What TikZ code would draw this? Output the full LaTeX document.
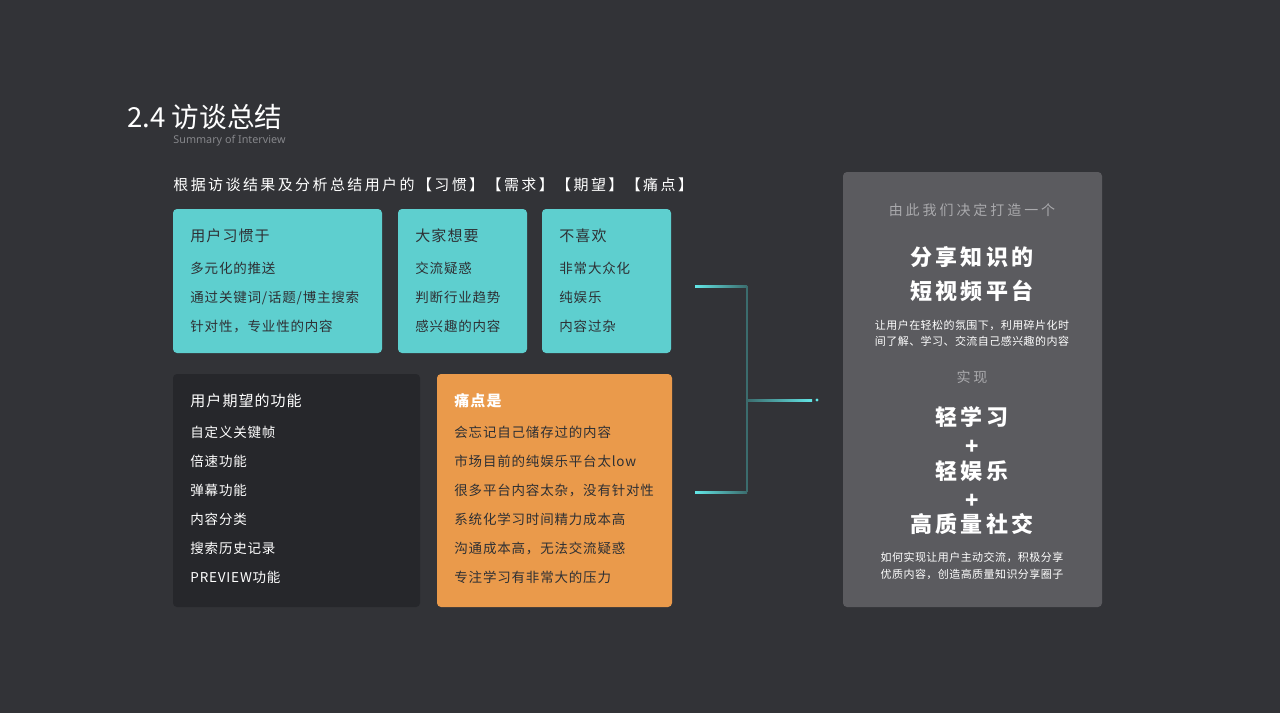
\documentclass[tikz,border=0pt]{standalone}
\usepackage{fontspec}
\usepackage{xcolor}
\usepackage{tikz}
\usetikzlibrary{calc}
\setmainfont{Noto Sans CJK SC}
\newfontfamily\latinsans{Noto Sans}
\newfontfamily\cjkhead[LetterSpace=16]{Noto Sans CJK SC}
\newfontfamily\cjktitle[LetterSpace=7]{Noto Sans CJK SC}
\newfontfamily\cjkitem[LetterSpace=6]{Noto Sans CJK SC}
\newfontfamily\cjkwide[LetterSpace=21]{Noto Sans CJK SC}
\newfontfamily\cjkbig[LetterSpace=15]{Noto Sans CJK SC}
\newfontfamily\cjksmall[LetterSpace=4]{Noto Sans CJK SC}

\definecolor{bgdark}{HTML}{323337}
\definecolor{tealbox}{HTML}{5ECFCF}
\definecolor{darkbox}{HTML}{26272B}
\definecolor{orangebox}{HTML}{EA9A4B}
\definecolor{panelgray}{HTML}{5B5B5F}
\definecolor{textdark}{HTML}{2E3034}
\definecolor{textgray}{HTML}{AAAAAD}
\definecolor{subgray}{HTML}{85868A}
\definecolor{linehi}{HTML}{62E6E6}
\definecolor{linelo}{HTML}{3B6C6D}

\begin{document}
\begin{tikzpicture}[x=0.5pt,y=-0.5pt,
    card/.style={rounded corners=2pt, anchor=north west, inner sep=0pt, outer sep=0pt},
    line/.style={anchor=west, inner sep=0pt, text height=0.88em, text depth=0.12em},
    mid/.style={anchor=center, inner sep=0pt, text height=0.88em, text depth=0.12em},
    cardtitle/.style={line, font=\cjktitle\fontsize{7.5pt}{9pt}\selectfont},
    carditem/.style={line, font=\cjkitem\fontsize{6.75pt}{8pt}\selectfont},
    panelhead/.style={mid, text=textgray, font=\cjkwide\fontsize{7pt}{8pt}\selectfont},
    panelbig/.style={mid, text=white, font=\cjkbig\bfseries\fontsize{11pt}{13pt}\selectfont},
    panelsmall/.style={mid, text=white, font=\cjksmall\fontsize{5.5pt}{7pt}\selectfont}]

    % background
    \useasboundingbox (0,0) rectangle (1280,713);
    \fill[bgdark] (0,0) rectangle (1280,713);

    % heading
    \node[anchor=base west, inner sep=0pt, text=white,
          font=\fontsize{13.8pt}{16pt}\selectfont] (title) at (127,127) {2.4 访谈总结};
    \node[anchor=west, inner sep=0pt, text=subgray,
          font=\latinsans\fontsize{5.4pt}{6pt}\selectfont] (subtitle) at (173,141) {Summary of Interview};
    \node[line, text=white, font=\cjkhead\fontsize{7.5pt}{9pt}\selectfont] (intro) at (173,183)
        {根据访谈结果及分析总结用户的【习惯】【需求】【期望】【痛点】};

    % cards, top row
    \node[card, fill=tealbox, minimum width=104.5pt, minimum height=72pt] (habitcard) at (173,209) {};
    \node[card, fill=tealbox, minimum width=64.5pt, minimum height=72pt] (wantcard) at (398,209) {};
    \node[card, fill=tealbox, minimum width=64.5pt, minimum height=72pt] (dislikecard) at (542,209) {};

    \node[cardtitle, text=textdark] (habit) at (190,234) {用户习惯于};
    \foreach \t [count=\i] in {多元化的推送, 通过关键词/话题/博主搜索, 针对性，专业性的内容}
        \node[carditem, text=textdark] (habit\i) at (190,237+29*\i) {\t};

    \node[cardtitle, text=textdark] (want) at (415,234) {大家想要};
    \foreach \t [count=\i] in {交流疑惑, 判断行业趋势, 感兴趣的内容}
        \node[carditem, text=textdark] (want\i) at (415,237+29*\i) {\t};

    \node[cardtitle, text=textdark] (dislike) at (559,234) {不喜欢};
    \foreach \t [count=\i] in {非常大众化, 纯娱乐, 内容过杂}
        \node[carditem, text=textdark] (dislike\i) at (559,237+29*\i) {\t};

    % cards, bottom row
    \node[card, fill=darkbox, minimum width=123.5pt, minimum height=116.5pt] (hopecard) at (173,374) {};
    \node[card, fill=orangebox, minimum width=117.5pt, minimum height=116.5pt] (paincard) at (437,374) {};

    \node[cardtitle, text=white] (hope) at (190,399) {用户期望的功能};
    \foreach \t [count=\i] in {自定义关键帧, 倍速功能, 弹幕功能, 内容分类, 搜索历史记录, PREVIEW功能}
        \node[carditem, text=white] (hope\i) at (190,401+29*\i) {\t};

    \node[cardtitle, text=white, font=\cjktitle\bfseries\fontsize{7.5pt}{9pt}\selectfont] (pain) at (454,399) {痛点是};
    \foreach \t [count=\i] in {会忘记自己储存过的内容, 市场目前的纯娱乐平台太low, 很多平台内容太杂，没有针对性,
                               系统化学习时间精力成本高, 沟通成本高，无法交流疑惑, 专注学习有非常大的压力}
        \node[carditem, text=textdark] (pain\i) at (454,401+29*\i) {\t};

    % connector
    \coordinate (ltop) at (695,286);
    \coordinate (jtop) at (747,286);
    \coordinate (lbot) at (695,492);
    \coordinate (jbot) at (747,492);
    \coordinate (jmid) at (747,400);
    \coordinate (rmid) at (812,400);
    \draw[linelo, line width=1pt] (jtop) -- (jbot);
    \shade[left color=linehi, right color=linelo] ($(ltop)+(0,-1)$) rectangle ($(jtop)+(0,1)$);
    \shade[left color=linehi, right color=linelo] ($(lbot)+(0,-1)$) rectangle ($(jbot)+(0,1)$);
    \shade[left color=linelo, right color=linehi] ($(jmid)+(0,-1)$) rectangle ($(rmid)+(0,1)$);
    \node[circle, fill=linehi, inner sep=0pt, minimum size=1.6pt] (tip) at (817,400) {};

    % result panel
    \node[card, fill=panelgray, minimum width=129.5pt, minimum height=217.5pt] (panel) at (843,172) {};
    \node[panelhead] (decide) at (972,208) {由此我们决定打造一个};
    \node[panelbig] (goal1) at (972,258) {分享知识的};
    \node[panelbig] (goal2) at (972,292) {短视频平台};
    \node[panelsmall] (note1) at (972,322) {让用户在轻松的氛围下，利用碎片化时};
    \node[panelsmall] (note2) at (972,338) {间了解、学习、交流自己感兴趣的内容};
    \node[panelhead] (realize) at (972,375) {实现};
    \node[panelbig] (study) at (972,418) {轻学习};
    \node[panelbig] (plus1) at (972,447) {+};
    \node[panelbig] (play) at (972,472) {轻娱乐};
    \node[panelbig] (plus2) at (972,501) {+};
    \node[panelbig] (social) at (972,525) {高质量社交};
    \node[panelsmall] (note3) at (972,554) {如何实现让用户主动交流，积极分享};
    \node[panelsmall] (note4) at (972,571) {优质内容，创造高质量知识分享圈子};
\end{tikzpicture}
\end{document}
